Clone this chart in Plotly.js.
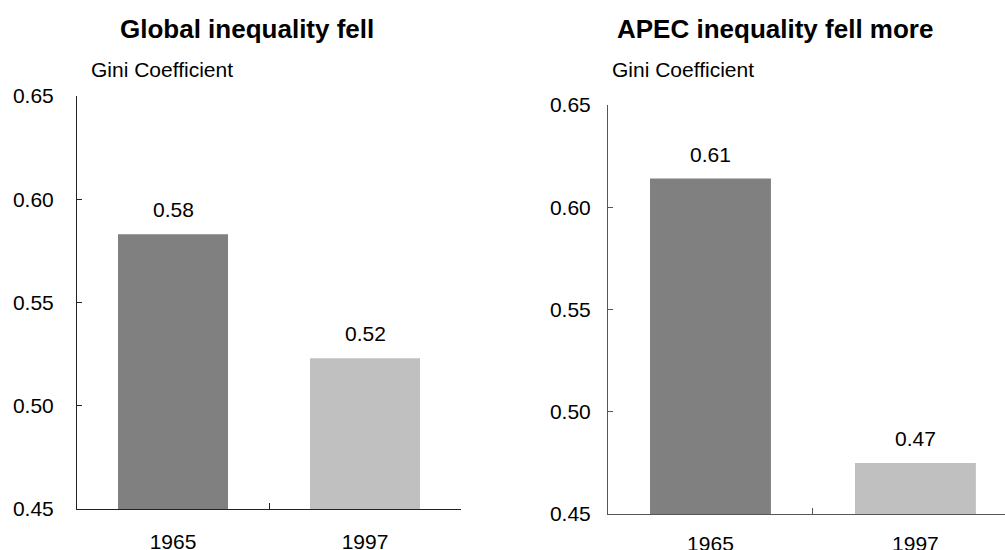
<!DOCTYPE html>
<html>
<head>
<meta charset="utf-8">
<script src="https://cdn.plot.ly/plotly-3.0.1.min.js"></script>
<style>
  html, body { margin: 0; padding: 0; background: #fff; overflow: hidden; }
  #chart { width: 1005px; height: 550px; }
</style>
</head>
<body>
<div id="chart"></div>
<script>
// ---- data ----
const years = ['1965', '1997'];
const globalGini = [0.583, 0.523];
const apecGini = [0.614, 0.475];
const titleGlobal = 'Global inequality fell';
const titleApec = 'APEC inequality fell more';
const yLabel = 'Gini Coefficient';
const yTicks = [0.45, 0.50, 0.55, 0.60, 0.65];

const FONT = 'Liberation Sans, Arial, Helvetica, sans-serif';
const barColors = ['#808080', '#c0c0c0'];

const traces = [
  { type: 'bar', x: years, y: globalGini, xaxis: 'x', yaxis: 'y',
    width: 0.573, marker: { color: barColors, line: { width: 0 } }, hoverinfo: 'none' },
  { type: 'bar', x: years, y: apecGini, xaxis: 'x2', yaxis: 'y2',
    width: 0.59, marker: { color: barColors, line: { width: 0 } }, hoverinfo: 'none' }
];

// value labels above bars (category index used as x position)
function valueLabels(xref, yref, vals) {
  return vals.map((v, i) => ({
    xref: xref, yref: yref, x: i, y: v,
    text: v.toFixed(2), showarrow: false,
    xanchor: 'center', yanchor: 'bottom', yshift: 11,
    font: { family: FONT, size: 21, color: '#000' }
  }));
}

const xCommon = {
  type: 'category', showline: true, linewidth: 1, ticks: 'inside', ticklen: 6,
  tickson: 'boundaries', showgrid: false, zeroline: false, fixedrange: true,
  tickfont: { family: FONT, size: 21, color: '#000' }
};
const yCommon = {
  range: [0.45, 0.65], tickvals: yTicks, tickformat: '.2f', showline: true, linewidth: 1,
  ticks: 'inside', ticklen: 5, showgrid: false, zeroline: false, fixedrange: true,
  tickfont: { family: FONT, size: 21, color: '#000' }
};

const layout = {
  width: 1005, height: 550,
  margin: { l: 0, r: 0, t: 0, b: 0 },
  paper_bgcolor: '#fff', plot_bgcolor: '#fff',
  showlegend: false,
  xaxis: Object.assign({}, xCommon, { domain: [77/1005, 461/1005], range: [-0.5, 1.5], anchor: 'y', linecolor: '#222', tickcolor: '#222', ticklabelstandoff: 14 }),
  yaxis: Object.assign({}, yCommon, { domain: [41/550, 454/550], anchor: 'x', linecolor: '#222', tickcolor: '#222', ticklabelstandoff: 18 }),
  xaxis2: Object.assign({}, xCommon, { domain: [608/1005, 1], range: [-0.5, 1.437], anchor: 'y2', linecolor: '#555', tickcolor: '#555', ticklabelstandoff: 11 }),
  yaxis2: Object.assign({}, yCommon, { domain: [36/550, 445/550], anchor: 'x2', linecolor: '#555', tickcolor: '#555', ticklabelstandoff: 12 }),
  annotations: [
    { xref: 'paper', yref: 'paper', x: 118/1005, y: 1 - 29/550, xanchor: 'left', yanchor: 'middle',
      text: '<b>' + titleGlobal + '</b>', showarrow: false, font: { family: FONT, size: 26, color: '#000' } },
    { xref: 'paper', yref: 'paper', x: 615/1005, y: 1 - 29/550, xanchor: 'left', yanchor: 'middle',
      text: '<b>' + titleApec + '</b>', showarrow: false, font: { family: FONT, size: 26, color: '#000' } },
    { xref: 'paper', yref: 'paper', x: 89/1005, y: 1 - 70/550, xanchor: 'left', yanchor: 'middle',
      text: yLabel, showarrow: false, font: { family: FONT, size: 21, color: '#000' } },
    { xref: 'paper', yref: 'paper', x: 610/1005, y: 1 - 70/550, xanchor: 'left', yanchor: 'middle',
      text: yLabel, showarrow: false, font: { family: FONT, size: 21, color: '#000' } }
  ].concat(valueLabels('x', 'y', globalGini), valueLabels('x2', 'y2', apecGini))
};

Plotly.newPlot('chart', traces, layout, { staticPlot: true, displayModeBar: false });
</script>
</body>
</html>
